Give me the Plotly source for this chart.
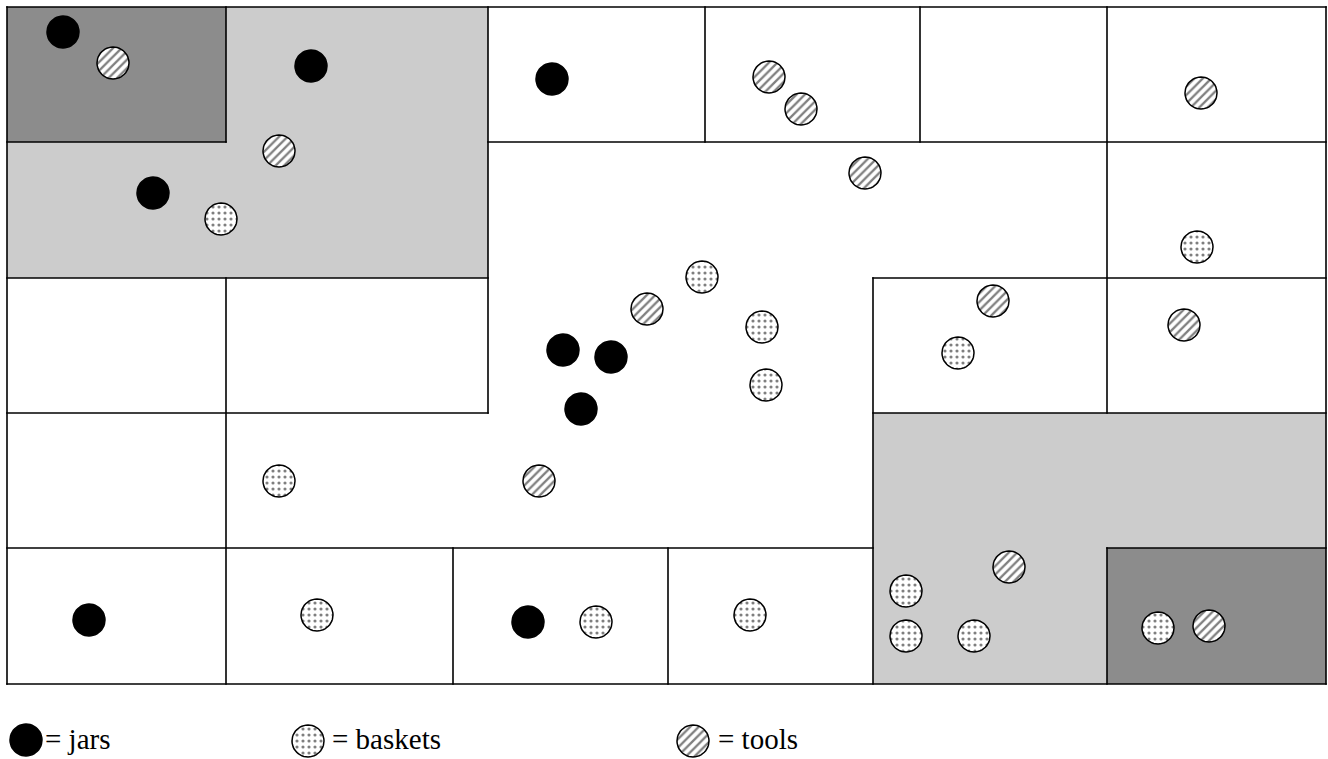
import numpy as np
import plotly.graph_objects as go

# ---- data: item locations (pixel space of the plan) ----
jars_x = [63, 311, 153, 552, 563, 611, 581, 89, 528]
jars_y = [32, 66, 193, 79, 350, 357, 409, 620, 622]

baskets_x = [221, 702, 762, 766, 1197, 958, 279, 317, 596, 750, 906, 906, 974, 1158]
baskets_y = [219, 277, 327, 385, 247, 353, 481, 615, 622, 615, 591, 636, 636, 628]

tools_x = [113, 279, 769, 801, 1201, 865, 647, 993, 1184, 539, 1009, 1209]
tools_y = [63, 151, 77, 109, 93, 173, 309, 301, 325, 481, 567, 626]

categories = ["jars", "baskets", "tools"]
legend_labels = ["= jars", "= baskets", "= tools"]

# ---- plan structure: shaded zones and walls ----
zones_dark = [(7, 7, 226, 142), (1107, 548, 1326, 684)]
zones_light = [(7, 7, 488, 278), (873, 413, 1326, 684)]
walls_h = [  # (y, x0, x1)
    (7, 7, 1326), (142, 7, 226), (142, 488, 1326), (278, 7, 488), (278, 873, 1326),
    (413, 7, 488), (413, 873, 1326), (548, 7, 873), (548, 1107, 1326), (684, 7, 1326),
]
walls_v = [  # (x, y0, y1)
    (7, 7, 684), (1326, 7, 684), (226, 7, 142), (226, 278, 684), (488, 7, 413),
    (705, 7, 142), (920, 7, 142), (1107, 7, 413), (1107, 548, 684),
    (873, 278, 684), (453, 548, 684), (668, 548, 684),
]

R = 16
W, H = 1328, 759


def circles(xs, ys, r=R):
    t = np.linspace(0, 2 * np.pi, 49)
    px, py = [], []
    for cx, cy in zip(xs, ys):
        px += list(cx + r * np.cos(t)) + [None]
        py += list(cy + r * np.sin(t)) + [None]
    return px, py


fig = go.Figure()

shapes = []
for (x0, y0, x1, y1) in zones_light:
    shapes.append(dict(type="rect", x0=x0, y0=y0, x1=x1, y1=y1, fillcolor="#cccccc",
                       line=dict(width=0), layer="below"))
for (x0, y0, x1, y1) in zones_dark:
    shapes.append(dict(type="rect", x0=x0, y0=y0, x1=x1, y1=y1, fillcolor="#8c8c8c",
                       line=dict(width=0), layer="below"))
for (y, x0, x1) in walls_h:
    shapes.append(dict(type="line", x0=x0 - 0.8, x1=x1 + 0.8, y0=y, y1=y,
                       line=dict(color="black", width=1.6), layer="below"))
for (x, y0, y1) in walls_v:
    shapes.append(dict(type="line", x0=x, x1=x, y0=y0 - 0.8, y1=y1 + 0.8,
                       line=dict(color="black", width=1.6), layer="below"))

# legend symbol positions (layout)
leg_sym_x = [26, 308, 693]
leg_sym_y = [740, 741, 741]
leg_txt_x = [43, 330, 716]

styles = {
    "jars": dict(fillcolor="black"),
    "baskets": dict(fillcolor="white",
                    fillpattern=dict(shape=".", fgcolor="black", bgcolor="white", size=6, solidity=0.22)),
    "tools": dict(fillcolor="white",
                  fillpattern=dict(shape="/", fgcolor="black", bgcolor="white", size=6, solidity=0.38)),
}
data = {"jars": (jars_x, jars_y), "baskets": (baskets_x, baskets_y), "tools": (tools_x, tools_y)}

for i, cat in enumerate(categories):
    xs, ys = data[cat]
    px, py = circles(list(xs) + [leg_sym_x[i]], list(ys) + [leg_sym_y[i]])
    fig.add_trace(go.Scatter(x=px, y=py, mode="lines", fill="toself",
                             line=dict(color="black", width=1.5), name=cat,
                             hoverinfo="skip", showlegend=False, **styles[cat]))

annotations = []
for i, lab in enumerate(legend_labels):
    annotations.append(dict(x=leg_txt_x[i], y=739, xref="x", yref="y", text=lab,
                            showarrow=False, xanchor="left", yanchor="middle",
                            font=dict(family="Liberation Serif, Times New Roman, serif",
                                      size=29, color="black")))

fig.update_layout(
    width=W, height=H, margin=dict(l=0, r=0, t=0, b=0),
    paper_bgcolor="white", plot_bgcolor="white",
    shapes=shapes, annotations=annotations, showlegend=False,
    xaxis=dict(range=[0, W], visible=False, fixedrange=True),
    yaxis=dict(range=[H, 0], visible=False, fixedrange=True),
)

fig.write_html(
    "out.html",
    config={"displayModeBar": False},
    post_script="document.body.style.margin='0';document.body.style.overflow='hidden';",
)
